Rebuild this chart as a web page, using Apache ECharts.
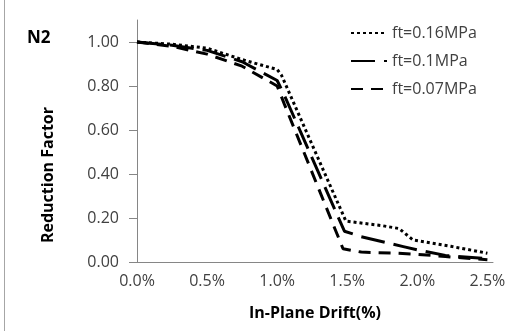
<!DOCTYPE html>
<html>
<head>
<meta charset="utf-8">
<script src="https://cdn.jsdelivr.net/npm/echarts@6/dist/echarts.min.js"></script>
<style>
html,body{margin:0;padding:0;background:#fff;}
#chart{width:514px;height:331px;}
</style>
</head>
<body>
<div id="chart"></div>
<script>
// In-plane drift (%) and reduction factors
const drift016 = [0, 0.25, 0.5, 0.75, 1.0, 1.03, 1.49, 1.75, 1.87, 1.97, 2.25, 2.5];
const rf016    = [1.0, 0.99, 0.972, 0.92, 0.875, 0.85, 0.186, 0.165, 0.152, 0.10, 0.07, 0.04];

const drift010 = [0, 0.25, 0.5, 0.75, 1.0, 1.05, 1.48, 1.6, 1.9, 2.0, 2.2, 2.5];
const rf010    = [1.0, 0.985, 0.962, 0.91, 0.825, 0.76, 0.14, 0.115, 0.07, 0.055, 0.03, 0.015];

const drift007 = [0, 0.25, 0.5, 0.75, 1.0, 1.05, 1.47, 1.6, 1.85, 2.0, 2.2, 2.5];
const rf007    = [1.0, 0.98, 0.945, 0.89, 0.80, 0.72, 0.06, 0.045, 0.04, 0.035, 0.025, 0.01];

const seriesNames = ['ft=0.16MPa', 'ft=0.1MPa', 'ft=0.07MPa'];
const xTicks = [0, 0.5, 1.0, 1.5, 2.0, 2.5];
const yTicks = [0, 0.2, 0.4, 0.6, 0.8, 1.0];

const zip = (xs, ys) => xs.map((x, i) => [x, ys[i]]);
const FONT = '"Open Sans", sans-serif';

const chart = echarts.init(document.getElementById('chart'), null, {renderer: 'canvas'});
chart.setOption({
  animation: false,
  backgroundColor: '#ffffff',
  grid: {left: 137, right: 21, top: 20, bottom: 69, containLabel: false},
  xAxis: {
    type: 'value', min: 0, max: 2.54,
    axisLine: {show: true, lineStyle: {color: '#868686', width: 1}},
    axisTick: {show: false},
    splitLine: {show: false},
    axisLabel: {customValues: xTicks, formatter: v => v.toFixed(1) + '%',
      color: '#404040', fontFamily: FONT, fontSize: 16, margin: 11},
    name: 'In-Plane Drift(%)', nameLocation: 'middle', nameGap: 43,
    nameTextStyle: {color: '#000', fontFamily: FONT, fontWeight: 'bold', fontSize: 16}
  },
  yAxis: {
    type: 'value', min: 0, max: 1.1,
    axisLine: {show: true, lineStyle: {color: '#868686', width: 1}},
    axisTick: {show: true, inside: false, length: 8, customValues: yTicks, lineStyle: {color: '#868686'}},
    splitLine: {show: false},
    axisLabel: {customValues: yTicks, formatter: v => v.toFixed(2),
      color: '#404040', fontFamily: FONT, fontSize: 16, margin: 18}
  },
  legend: {
    orient: 'vertical', left: 345, top: 20,
    itemWidth: 36, itemHeight: 16, itemGap: 12,
    itemStyle: {color: 'transparent', borderWidth: 0, opacity: 0},
    textStyle: {color: '#404040', fontFamily: FONT, fontSize: 16},
    data: seriesNames
  },
  graphic: [
    {type: 'text', left: 27, top: 30, style: {text: 'N2', fill: '#000', font: 'bold 17px "Open Sans", sans-serif'}},
    {type: 'text', x: 48, y: 175, rotation: Math.PI / 2,
      style: {text: 'Reduction Factor', fill: '#000', font: 'bold 16px "Open Sans", sans-serif',
        align: 'center', verticalAlign: 'middle'}},
    {type: 'line', shape: {x1: 4.5, y1: 0, x2: 4.5, y2: 331}, style: {stroke: '#a6a6a6', lineWidth: 1}}
  ],
  series: [
    {name: seriesNames[0], type: 'line', data: zip(drift016, rf016), symbol: 'none',
      lineStyle: {color: '#000', width: 3, type: [3, 3]}},
    {name: seriesNames[1], type: 'line', data: zip(drift010, rf010), symbol: 'none',
      lineStyle: {color: '#000', width: 3, type: [24, 9]}},
    {name: seriesNames[2], type: 'line', data: zip(drift007, rf007), symbol: 'none',
      lineStyle: {color: '#000', width: 3, type: [12, 8]}}
  ]
});
</script>
</body>
</html>
